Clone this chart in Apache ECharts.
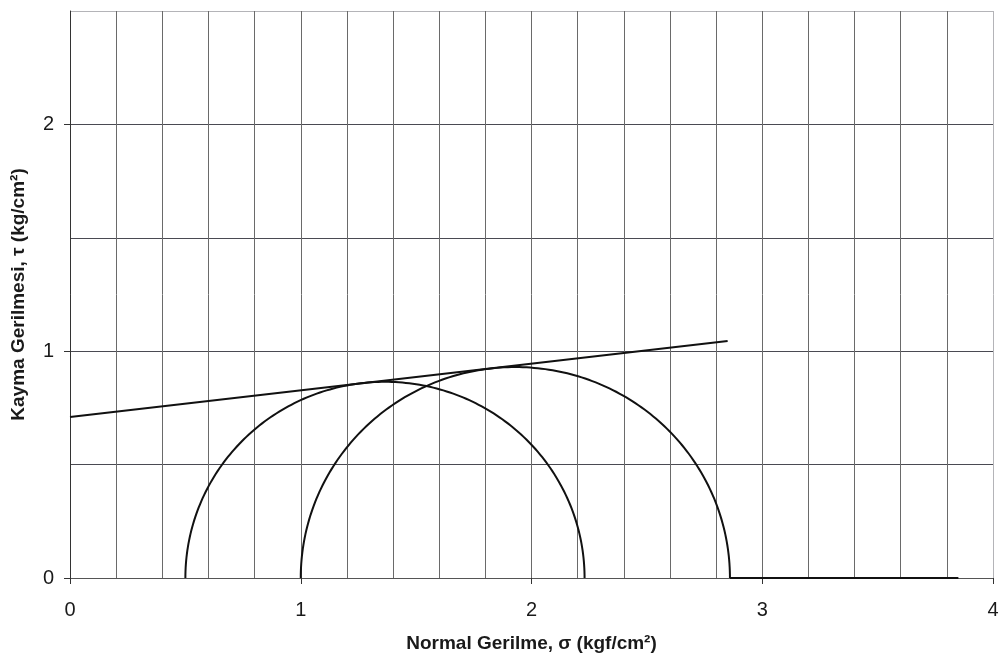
<!DOCTYPE html>
<html>
<head>
<meta charset="utf-8">
<script src="https://cdn.jsdelivr.net/npm/echarts@6/dist/echarts.min.js"></script>
<style>
  html, body { margin: 0; padding: 0; background: #fff; }
  #chart { width: 1004px; height: 663px; }
</style>
</head>
<body>
<div id="chart"></div>
<script>
// Mohr circles: [sigma3, sigma1] in kgf/cm²
const mohrCircles = [
  [0.5, 2.23],
  [1.0, 2.86]
];
// Failure envelope τ = c + σ·tanφ, end points
const envelope = [
  [0.0, 0.71],
  [2.85, 1.045]
];
// Trailing segment along the σ axis
const baseSegment = [
  [2.86, 0.0],
  [3.85, 0.0]
];
const xTickLabels = ['0', '1', '2', '3', '4'];
const yTickLabels = ['0', '1', '2'];

const FONT = '"Liberation Sans", Arial, sans-serif';
const chart = echarts.init(document.getElementById('chart'), null, { renderer: 'canvas' });

const gridColorH = '#4a4a52';
const gridColorV = '#6a6a6a';
const frameColor = '#b4b4b8';

// split line colours: the last line (outer frame) is lighter
const hLineColors = [gridColorH, gridColorH, gridColorH, gridColorH, gridColorH, frameColor];
const vLineColors = [];
for (let i = 0; i < 20; i++) vLineColors.push(gridColorV);
vLineColors.push(frameColor);

const xTickValues = xTickLabels.map(Number);
const yTickValues = yTickLabels.map(Number);

chart.setOption({
  animation: false,
  backgroundColor: '#ffffff',
  grid: { left: 70, right: 11, top: 11, bottom: 85, show: false },
  xAxis: [
    {
      type: 'value', min: 0, max: 4, interval: 0.2,
      axisLine: { show: true, lineStyle: { color: '#555', width: 1 } },
      axisTick: { show: false },
      axisLabel: { show: false },
      splitLine: { show: true, lineStyle: { color: vLineColors, width: 1 } }
    },
    {
      type: 'value', min: 0, max: 4, interval: 1, position: 'bottom',
      axisLine: { show: false },
      axisTick: { show: true, length: 6, customValues: xTickValues, lineStyle: { color: '#333' } },
      axisLabel: {
        show: true, margin: 22, fontSize: 20, color: '#1a1a1a', fontFamily: FONT,
        customValues: xTickValues,
        formatter: v => xTickLabels[Math.round(v)] ?? ''
      },
      splitLine: { show: false },
      name: 'Normal Gerilme, σ (kgf/cm²)',
      nameLocation: 'middle', nameGap: 56,
      nameTextStyle: { fontSize: 19, fontWeight: 'bold', color: '#1a1a1a', fontFamily: FONT }
    }
  ],
  yAxis: [
    {
      type: 'value', min: 0, max: 2.5, interval: 0.5,
      axisLine: { show: true, lineStyle: { color: '#333', width: 1 } },
      axisTick: { show: false },
      axisLabel: { show: false },
      splitLine: { show: true, lineStyle: { color: hLineColors, width: 1 } }
    },
    {
      type: 'value', min: 0, max: 2.5, interval: 1, position: 'left',
      axisLine: { show: false },
      axisTick: { show: true, length: 6, customValues: yTickValues, lineStyle: { color: '#333' } },
      axisLabel: {
        show: true, margin: 16, fontSize: 20, color: '#1a1a1a', fontFamily: FONT,
        customValues: yTickValues,
        formatter: v => yTickLabels[Math.round(v)] ?? ''
      },
      splitLine: { show: false },
      name: 'Kayma Gerilmesi, τ (kg/cm²)',
      nameLocation: 'middle', nameGap: 42,
      nameTextStyle: { fontSize: 19, fontWeight: 'bold', color: '#1a1a1a', fontFamily: FONT }
    }
  ],
  series: [
    {
      type: 'custom',
      xAxisIndex: 0, yAxisIndex: 0,
      data: mohrCircles,
      encode: { x: [0, 1] },
      renderItem: function (params, api) {
        const s3 = api.value(0), s1 = api.value(1);
        const c = (s3 + s1) / 2, r = (s1 - s3) / 2;
        const pts = [];
        for (let a = 180; a >= 0; a -= 1) {
          const t = a * Math.PI / 180;
          pts.push(api.coord([c + r * Math.cos(t), r * Math.sin(t)]));
        }
        return {
          type: 'polyline',
          shape: { points: pts },
          style: { stroke: '#111', lineWidth: 2, fill: null }
        };
      },
      z: 5
    },
    {
      type: 'line', xAxisIndex: 0, yAxisIndex: 0,
      data: envelope, symbol: 'none',
      lineStyle: { color: '#111', width: 2 }, z: 6
    },
    {
      type: 'line', xAxisIndex: 0, yAxisIndex: 0,
      data: baseSegment, symbol: 'none',
      lineStyle: { color: '#111', width: 2 }, z: 6
    }
  ]
});
</script>
</body>
</html>
